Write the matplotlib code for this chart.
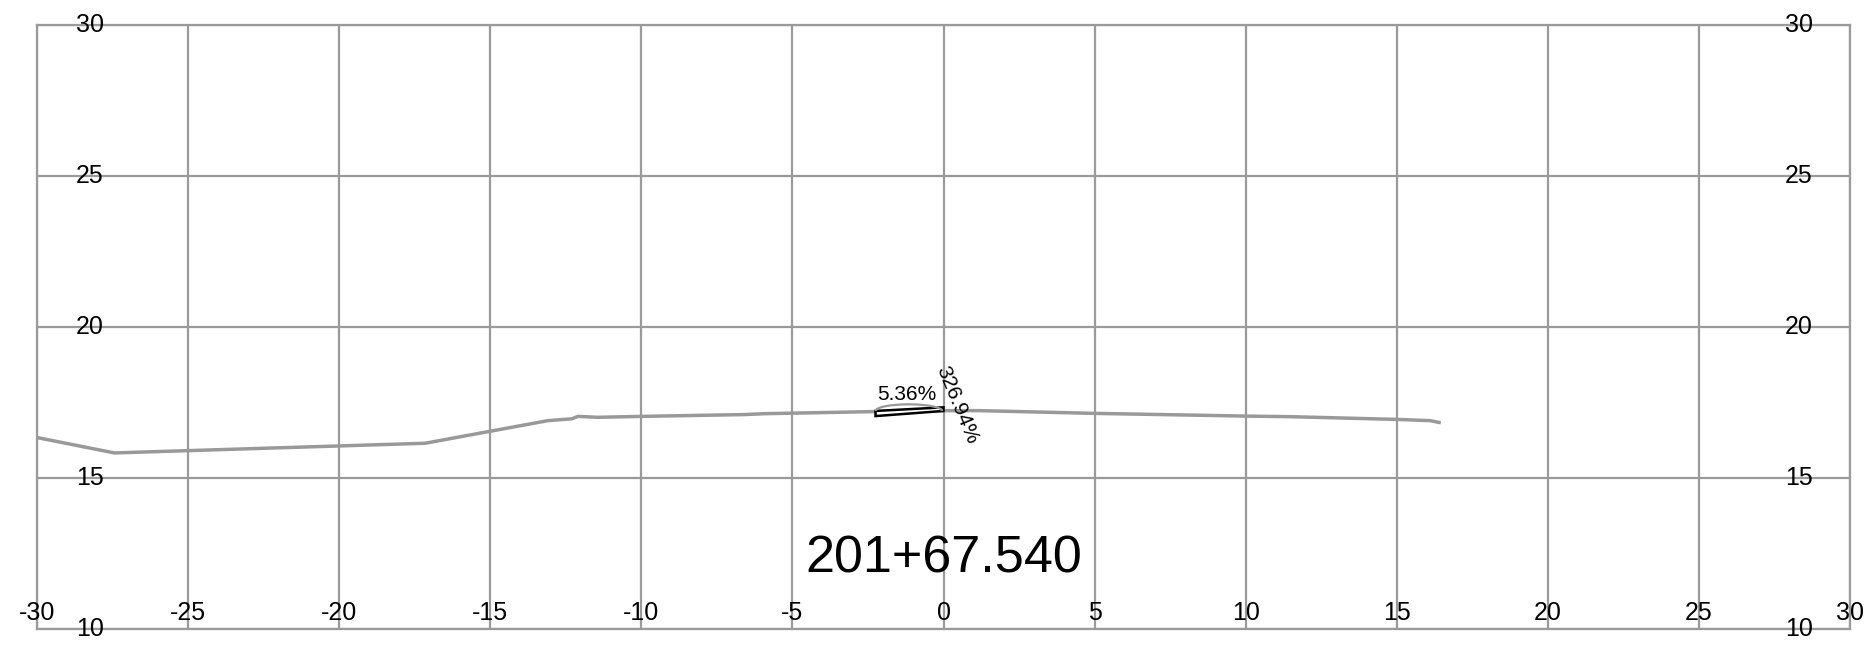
import numpy as np
import matplotlib
matplotlib.use('Agg')
import matplotlib.pyplot as plt
from matplotlib.patches import Polygon, Arc
import matplotlib.transforms as mtransforms

plt.rcParams['font.family'] = ['Liberation Sans', 'DejaVu Sans']

# terreno (offset, elevacion)
ground_x = [-30, -27.44, -17.16, -13.09, -12.30, -12.10, -11.44, -10.0, -6.6, -5.9,
            -2.23, 0, 1.2, 5, 10, 11.5, 15, 16.1, 16.4]
ground_y = [16.34, 15.83, 16.15, 16.90, 16.96, 17.04, 17.01, 17.04, 17.10, 17.13,
            17.20, 17.23, 17.23, 17.14, 17.05, 17.03, 16.94, 16.90, 16.84]

# seccion (trapecio)
sec_x = [-2.25, 0.0, 0.0, -2.25]
sec_y = [17.22, 17.34, 17.22, 17.05]

slope_left = "5.36%"
slope_right = "326.94%"
station = "201+67.540"

xticks = list(range(-30, 31, 5))
yticks = list(range(10, 31, 5))

fig = plt.figure(figsize=(18.68, 6.45), dpi=100)
ax = fig.add_axes([37 / 1868, 16 / 645, 1813 / 1868, 604 / 645])
ax.set_xlim(-30, 30)
ax.set_ylim(10, 30)

grid_c = '#9a9a9a'
for v in xticks:
    ax.axvline(v, color=grid_c, lw=1.6, zorder=1)
for v in yticks:
    ax.axhline(v, color=grid_c, lw=1.6, zorder=1)
for s in ax.spines.values():
    s.set_color(grid_c)
    s.set_linewidth(1.6)
ax.set_xticks([])
ax.set_yticks([])

ax.plot(ground_x, ground_y, color='#999999', lw=2.5, zorder=2)

ax.add_patch(Polygon(list(zip(sec_x, sec_y)), closed=True, facecolor='white',
                     edgecolor='black', lw=1.8, zorder=3))
ax.add_patch(Arc((-1.15, 17.22), 2.2, 0.44, theta1=0, theta2=180,
                 color='#999999', lw=1.6, zorder=3))

ax.text(-1.2, 17.75, slope_left, fontsize=15, ha='center', va='center', zorder=4)
ax.text(0.45, 17.42, slope_right, fontsize=15, ha='center', va='center',
        rotation=-67.5, rotation_mode='anchor', zorder=4)
ax.text(0, 12.32, station, fontsize=37.5, ha='center', va='center', zorder=4)

# etiquetas de ejes dentro del grafico
xt = mtransforms.blended_transform_factory(ax.transData, ax.transAxes)
for v in xticks:
    ax.text(v, 0, str(v), transform=xt + mtransforms.ScaledTranslation(0, 16 / 100, fig.dpi_scale_trans),
            fontsize=18, ha='center', va='center', clip_on=False)
yl = mtransforms.blended_transform_factory(ax.transAxes, ax.transData)
for v in yticks:
    ax.text(0, v, str(v), transform=yl + mtransforms.ScaledTranslation(53 / 100, 0, fig.dpi_scale_trans),
            fontsize=18, ha='center', va='center', clip_on=False)
    ax.text(1, v, str(v), transform=yl + mtransforms.ScaledTranslation(-51 / 100, 0, fig.dpi_scale_trans),
            fontsize=18, ha='center', va='center', clip_on=False)

fig.savefig('out.png', dpi=100)
